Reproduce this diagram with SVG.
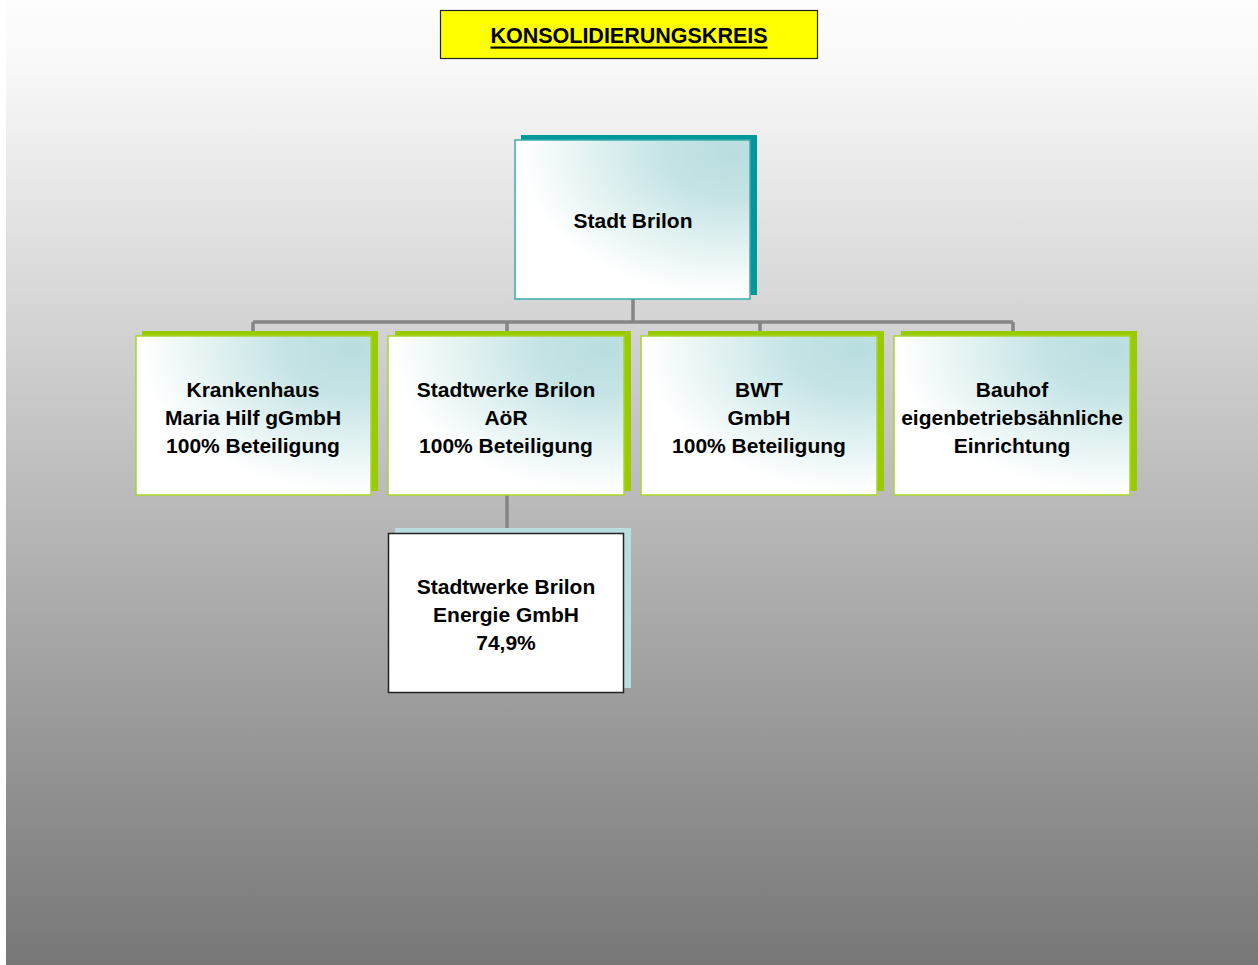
<svg xmlns="http://www.w3.org/2000/svg" width="1258" height="965" viewBox="0 0 1258 965">
<defs>
<linearGradient id="bg" x1="0" y1="0" x2="0" y2="1">
<stop offset="0" stop-color="#fdfdfd"/>
<stop offset="0.07" stop-color="#f8f8f8"/>
<stop offset="1" stop-color="#777777"/>
</linearGradient>
<radialGradient id="nodefill" cx="0.92" cy="0.08" r="0.9">
<stop offset="0" stop-color="#b9dee0"/>
<stop offset="0.3" stop-color="#c4e3e4"/>
<stop offset="1" stop-color="#ffffff"/>
</radialGradient>
<style>
.t{font-family:"Liberation Sans",Arial,sans-serif;font-weight:bold;font-size:21px;fill:#000;text-anchor:middle;dominant-baseline:central}
.conn{stroke:#858585;stroke-width:3.5;fill:none}
.sh-teal{fill:#009999}
.sh-green{fill:#99cc00}
.sh-light{fill:#b9dee0}
.box-teal{fill:url(#nodefill);stroke:#3aacac;stroke-width:1.5}
.box-green{fill:url(#nodefill);stroke:#a8d42a;stroke-width:1.5}
.box-white{fill:#ffffff;stroke:#222;stroke-width:1.5}
</style>
</defs>
<rect x="0" y="0" width="1258" height="965" fill="#ffffff"/>
<rect x="6" y="0" width="1252" height="965" fill="url(#bg)"/>

<g id="title">
<rect x="440.5" y="10.5" width="377" height="48" fill="#ffff00" stroke="#222" stroke-width="1.2"/>
<text class="t" x="629" y="35.5" style="font-size:21.5px;text-decoration:underline">KONSOLIDIERUNGSKREIS</text>
</g>

<g id="connectors">
<path class="conn" d="M633 299 V322 M253 322 H1013 M253 322 V334 M507 322 V334 M760 322 V334 M1013 322 V334"/>
<path class="conn" d="M507 495 V530"/>
</g>

<g id="stadt-brilon">
<rect class="sh-teal" x="521" y="135" width="236" height="160"/>
<rect class="box-teal" x="515" y="140" width="235" height="159"/>
<text class="t" x="633" y="220">Stadt Brilon</text>
</g>

<g id="krankenhaus">
<rect class="sh-green" x="142" y="331" width="236" height="160"/>
<rect class="box-green" x="136" y="336" width="235" height="159"/>
<text class="t" x="253" y="389">Krankenhaus</text>
<text class="t" x="253" y="417">Maria Hilf gGmbH</text>
<text class="t" x="253" y="445">100% Beteiligung</text>
</g>

<g id="stadtwerke-aoer">
<rect class="sh-green" x="395" y="331" width="236" height="160"/>
<rect class="box-green" x="388" y="336" width="236" height="159"/>
<text class="t" x="506" y="389">Stadtwerke Brilon</text>
<text class="t" x="506" y="417">AöR</text>
<text class="t" x="506" y="445">100% Beteiligung</text>
</g>

<g id="bwt">
<rect class="sh-green" x="648" y="331" width="236" height="160"/>
<rect class="box-green" x="641" y="336" width="236" height="159"/>
<text class="t" x="759" y="389">BWT</text>
<text class="t" x="759" y="417">GmbH</text>
<text class="t" x="759" y="445">100% Beteiligung</text>
</g>

<g id="bauhof">
<rect class="sh-green" x="901" y="331" width="236" height="160"/>
<rect class="box-green" x="894" y="336" width="236" height="159"/>
<text class="t" x="1012" y="389">Bauhof</text>
<text class="t" x="1012" y="417">eigenbetriebsähnliche</text>
<text class="t" x="1012" y="445">Einrichtung</text>
</g>

<g id="stadtwerke-energie">
<rect class="sh-light" x="395" y="528" width="236" height="160"/>
<rect class="box-white" x="388.5" y="533.5" width="235" height="159"/>
<text class="t" x="506" y="586">Stadtwerke Brilon</text>
<text class="t" x="506" y="614">Energie GmbH</text>
<text class="t" x="506" y="642">74,9%</text>
</g>
</svg>
